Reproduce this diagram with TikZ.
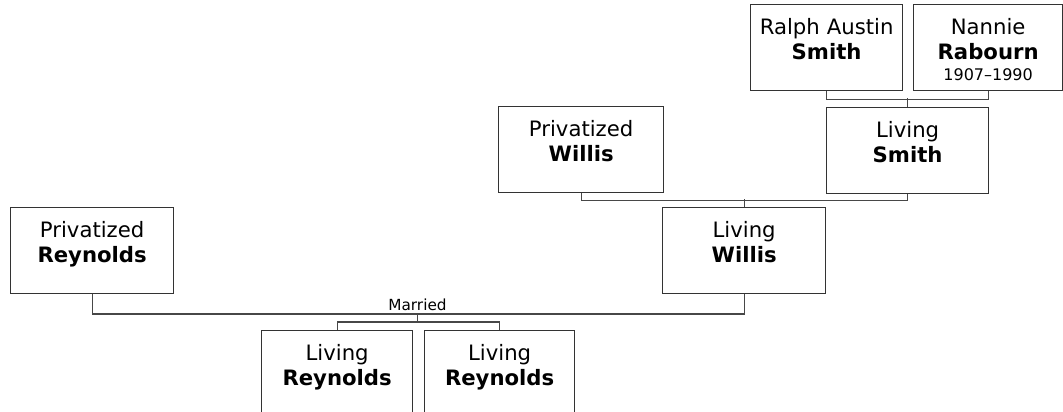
\documentclass[tikz,border=0pt]{standalone}
\usepackage{fontspec}
\setmainfont{DejaVu Sans}
\usepackage{tikz}

\tikzset{
  person/.style={draw=black!80, line width=1.3pt, anchor=north west, inner sep=0pt,
    text width=#1, align=center, text height=30pt, text depth=56pt,
    font=\fontsize{21.2}{25}\selectfont},
  person/.default=163pt,
  link/.style={draw=black!72, line width=1.3pt},
}

\begin{document}
\begin{tikzpicture}[x=1pt, y=-1pt]
\useasboundingbox (0,0) rectangle (1063,412);
\node[person=152pt] (rsmith) at (750,4) {Ralph Austin\\\textbf{Smith}};
\node[person=149pt] (nrabourn) at (913,4) {Nannie\\\textbf{Rabourn}\\[-4pt]{\fontsize{16}{18}\selectfont 1907–1990}};
\node[person=162pt] (lsmith) at (826,107) {Living\\\textbf{Smith}};
\node[person=165pt] (pwillis) at (498,106) {Privatized\\\textbf{Willis}};
\node[person] (lwillis) at (662,207) {Living\\\textbf{Willis}};
\node[person] (preynolds) at (10,207) {Privatized\\\textbf{Reynolds}};
\node[person=151pt] (lreynoldsa) at (261,330) {Living\\\textbf{Reynolds}};
\node[person=150pt] (lreynoldsb) at (424,330) {Living\\\textbf{Reynolds}};
\node[anchor=south, font=\fontsize{15.3}{18}\selectfont] (married) at (417.5,314) {Married};
\draw[link] (rsmith.south) -- ++(0,8) -| (nrabourn.south);
\draw[link] (lsmith.north) -- ++(0,-9);
\draw[link] (pwillis.south) -- ++(0,7) -| (lsmith.south);
\draw[link] (lwillis.north) -- ++(0,-8);
\draw[link] (preynolds.south) |- (married.south) -| (lwillis.south);
\draw[link] (married.south) -- ++(0,8);
\draw[link] (lreynoldsa.north) -- ++(0,-8) -| (lreynoldsb.north);
\end{tikzpicture}
\end{document}
